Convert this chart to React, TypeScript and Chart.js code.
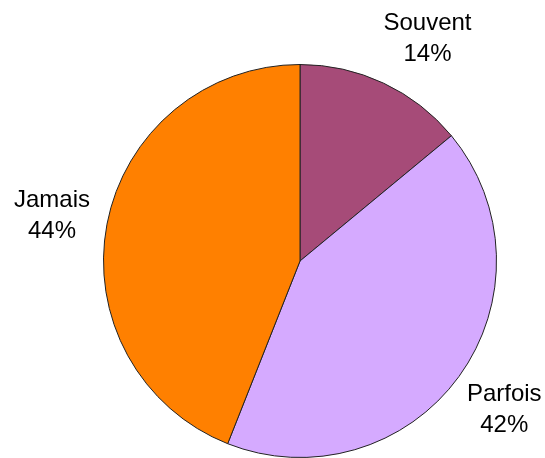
import React, { useEffect, useRef } from "react";
import { Chart, registerables } from "chart.js";

Chart.register(...registerables);

const categories = ["Souvent", "Parfois", "Jamais"];
const values = [14, 42, 44];
const colors = ["#A64B78", "#D5AAFF", "#FF8000"];

// small per-label nudges (pixels) to mimic the original label placement
const labelNudge = [
  [20, 6],
  [0, 0],
  [0, 2],
];

const labelPlugin = {
  id: "outsideLabels",
  afterDatasetsDraw(chart: any) {
    const ctx = chart.ctx;
    const meta = chart.getDatasetMeta(0);
    const total = values.reduce((a, b) => a + b, 0);
    ctx.save();
    ctx.font = "24px 'Liberation Sans', Arial, sans-serif";
    ctx.fillStyle = "#000";
    ctx.textAlign = "center";
    ctx.textBaseline = "middle";
    meta.data.forEach((arc: any, i: number) => {
      const mid = (arc.startAngle + arc.endAngle) / 2;
      const dist = arc.outerRadius + 56;
      const x = arc.x + Math.cos(mid) * dist + labelNudge[i][0];
      const y = arc.y + Math.sin(mid) * dist + labelNudge[i][1];
      const pct = Math.round((values[i] / total) * 100);
      ctx.fillText(categories[i], x, y - 15.5);
      ctx.fillText(pct + "%", x, y + 15.5);
    });
    ctx.restore();
  },
};

export default function App() {
  const ref = useRef<HTMLCanvasElement>(null);
  useEffect(() => {
    document.body.style.margin = "0";
    const chart = new Chart(ref.current!, {
      type: "pie",
      data: {
        labels: categories,
        datasets: [
          {
            data: values,
            backgroundColor: colors,
            borderColor: "#222222",
            borderWidth: 1,
          },
        ],
      },
      options: {
        responsive: false,
        animation: false,
        layout: { padding: { left: 103, right: 48, top: 64, bottom: 0 } },
        plugins: {
          legend: { display: false },
          tooltip: { enabled: false },
        },
      },
      plugins: [labelPlugin],
    });
    return () => chart.destroy();
  }, []);
  return (
    <div style={{ position: "absolute", left: 0, top: 0, width: 545, height: 458, background: "#fff" }}>
      <canvas ref={ref} width={545} height={458} />
    </div>
  );
}
